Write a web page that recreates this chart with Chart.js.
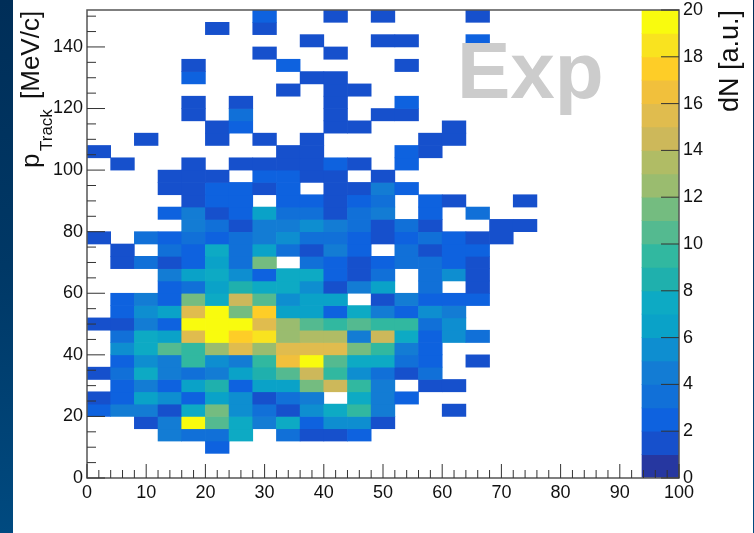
<!DOCTYPE html>
<html><head><meta charset="utf-8">
<style>
html,body{margin:0;padding:0;width:754px;height:533px;overflow:hidden;background:linear-gradient(180deg,#002e58 0%,#003866 50%,#004a80 100%);}
#wrap{position:absolute;left:13px;top:0;width:740px;height:533px;background:#fff;}
canvas{display:block;}
</style>
<script src="https://cdn.jsdelivr.net/npm/chart.js@4"></script>
</head><body><div id="wrap"><canvas id="c" width="740" height="533"></canvas></div>
<script>
const binSize = 4;
const topBinLow = 148;
// counts per 4x4 bin; rows run from the top row (pTrack 148-152) down, columns from x = 0-4 up
const counts = [
[0,0,0,0,0,0,0,2,0,0,1,0,1,0,0,0,1,0,0],
[0,0,0,0,0,1,0,1,0,0,0,0,0,0,0,0,0,0,0],
[0,0,0,0,0,0,0,0,0,1,0,0,1,1,0,0,2,0,0],
[0,0,0,0,0,0,0,1,0,0,1,0,0,0,0,0,0,0,0],
[0,0,0,0,1,0,0,0,2,0,0,0,0,1,0,0,0,0,0],
[0,0,0,0,2,0,0,0,0,1,1,0,0,0,0,0,0,0,0],
[0,0,0,0,0,0,0,0,1,0,1,1,0,0,0,0,0,0,0],
[0,0,0,0,1,0,1,0,0,0,1,0,0,2,0,0,0,0,0],
[0,0,0,0,1,0,3,0,0,0,1,0,1,1,0,0,0,0,0],
[0,0,0,0,0,1,2,0,0,0,1,1,0,0,0,1,0,0,0],
[0,0,1,0,0,1,0,1,0,1,0,0,0,0,1,1,0,0,0],
[1,0,0,0,0,0,0,0,1,1,0,0,0,2,1,0,0,0,0],
[0,1,0,0,1,0,1,1,1,1,2,1,0,2,0,0,0,0,0],
[0,0,0,1,1,1,0,2,2,1,1,0,1,0,0,0,0,0,0],
[0,0,0,1,1,2,2,1,2,0,1,1,4,2,0,0,0,0,0],
[0,0,0,0,1,2,2,0,2,2,1,2,3,0,2,1,0,0,1],
[0,0,0,2,4,1,2,6,3,3,1,3,4,0,2,0,3,0,0],
[0,0,0,0,4,3,1,4,4,5,4,3,1,3,1,0,0,1,1],
[1,0,3,2,3,2,3,4,5,3,3,2,1,2,3,2,1,1,0],
[0,1,0,3,2,7,3,6,3,1,4,2,0,3,1,2,2,0,0],
[0,1,3,1,2,6,3,11,0,3,2,1,2,3,3,2,1,0,0],
[0,0,0,4,6,7,5,2,7,7,2,1,3,0,3,5,1,0,0],
[0,0,0,2,3,6,8,7,7,5,1,4,6,0,3,0,1,0,0],
[0,2,4,2,11,7,14,10,5,6,6,0,1,4,2,2,2,0,0],
[0,2,5,6,15,19,11,17,6,6,2,7,4,2,5,4,0,0,0],
[1,1,4,2,19,19,19,15,12,10,9,10,9,9,3,5,0,0,0],
[0,3,7,6,15,19,17,18,12,13,13,4,14,7,2,5,3,0,0],
[0,5,7,10,9,12,15,12,15,15,15,11,9,4,2,0,0,0,0],
[0,2,5,4,9,5,4,9,16,19,10,7,7,3,2,0,1,0,0],
[1,3,7,4,3,4,6,8,10,14,9,5,3,1,3,0,0,0,0],
[0,2,4,2,6,8,2,6,6,11,14,9,4,0,1,1,0,0,0],
[1,2,6,5,2,6,5,1,3,4,0,7,4,2,0,0,0,0,0],
[2,4,4,1,7,11,5,3,1,5,7,9,4,0,0,1,0,0,0],
[0,0,1,4,19,10,7,4,7,2,5,5,1,0,0,0,0,0,0],
[0,0,0,4,3,3,7,0,3,1,1,2,0,0,0,0,0,0,0],
[0,0,0,0,0,2,0,0,0,0,0,0,0,0,0,0,0,0,0]
];
const zLevels = [0,1,2,3,4,5,6,7,8,9,10,11,12,13,14,15,16,17,18,19];
const zColors = ['#2637a0','#1650cc','#0e62df','#1170d8','#137cd4','#0e8ed0','#0aa2c8','#0daac4','#1fb0ad','#31b8a0',
                 '#54ba90','#74bc80','#9abc6f','#b0bc65','#cdb85a','#e0bc4e','#f1c03c','#fecd27','#f9e31f','#f9fb0e'];
const xTickValues = [0,10,20,30,40,50,60,70,80,90,100];
const yTickValues = [0,20,40,60,80,100,120,140];
const zTickValues = [0,2,4,6,8,10,12,14,16,18,20];

const FONT = '"Liberation Sans", Arial, sans-serif';
const inkTick = '#333';
const noOverhang = s => { s.paddingTop = 0; s.paddingBottom = 0; s.paddingLeft = 0; s.paddingRight = 0; };

const cellDatasets = counts.map((row, t) => ({
  type: 'bar',
  label: 'row' + t,
  xAxisID: 'x', yAxisID: 'y',
  grouped: false,
  barThickness: 23.68,
  data: row.map((v, i) => v > 0 ? {x: i * binSize + binSize / 2, y: [topBinLow - t * binSize, topBinLow - t * binSize + binSize], v} : null).filter(Boolean),
  backgroundColor: c => c.raw ? zColors[c.raw.v] : 'transparent'
}));
const paletteDataset = {
  type: 'bar', label: 'palette', xAxisID: 'x', yAxisID: 'z', grouped: false, barThickness: 37,
  data: zLevels.map(l => ({x: 96.875, y: [l, l + 1], v: l})),
  backgroundColor: c => c.raw ? zColors[c.raw.v] : 'transparent'
};

const decorations = {
  id: 'decorations',
  afterDatasetsDraw(chart) {
    const {ctx, chartArea: a, scales} = chart;
    ctx.save();
    // watermark
    ctx.fillStyle = 'rgba(204,204,204,1)';
    ctx.font = 'bold 80px ' + FONT;
    ctx.textAlign = 'left'; ctx.textBaseline = 'alphabetic';
    ctx.fillText('Exp', 444, 98);
    // frame
    ctx.strokeStyle = '#555'; ctx.lineWidth = 1.5;
    ctx.strokeRect(a.left, a.top, a.right - a.left, a.bottom - a.top);
    // inward ticks
    ctx.strokeStyle = inkTick; ctx.lineWidth = 1;
    ctx.beginPath();
    scales.x.ticks.forEach(t => {
      const px = scales.x.getPixelForValue(t.value);
      const len = t.value % 10 === 0 ? 14 : 8;
      ctx.moveTo(px, a.bottom); ctx.lineTo(px, a.bottom - len);
    });
    scales.y.ticks.forEach(t => {
      const py = scales.y.getPixelForValue(t.value);
      const len = t.value % 20 === 0 ? 18 : 9;
      ctx.moveTo(a.left, py); ctx.lineTo(a.left + len, py);
    });
    scales.z.ticks.forEach(t => {
      const py = scales.z.getPixelForValue(t.value);
      ctx.moveTo(a.right, py); ctx.lineTo(a.right - 18, py);
    });
    ctx.stroke();
    // axis titles
    ctx.fillStyle = '#111';
    ctx.textBaseline = 'alphabetic';
    ctx.save();
    ctx.translate(26, 99); ctx.rotate(-Math.PI / 2);
    ctx.textAlign = 'left';
    ctx.font = '26px ' + FONT;
    ctx.fillText('[MeV/c]', 0, 0);
    ctx.restore();
    ctx.save();
    ctx.translate(26, 168); ctx.rotate(-Math.PI / 2);
    ctx.textAlign = 'left';
    ctx.font = '26px ' + FONT;
    ctx.fillText('p', 0, 0);
    ctx.font = '17px ' + FONT;
    ctx.fillText('Track', 17, 13);
    ctx.restore();
    ctx.save();
    ctx.translate(725, 10); ctx.rotate(-Math.PI / 2);
    ctx.textAlign = 'right';
    ctx.font = '27px ' + FONT;
    ctx.fillText('dN [a.u.]', 0, 0);
    ctx.restore();
    ctx.restore();
  }
};

new Chart(document.getElementById('c'), {
  data: {datasets: [...cellDatasets, paletteDataset]},
  options: {
    responsive: false,
    animation: false,
    layout: {padding: {top: 10, left: 0, right: 0, bottom: 0}},
    plugins: {legend: {display: false}, title: {display: false}, tooltip: {enabled: false}},
    scales: {
      x: {
        type: 'linear', position: 'bottom', min: 0, max: 100, offset: false,
        afterFit: s => { s.height = 55; noOverhang(s); },
        grid: {drawOnChartArea: false, drawTicks: false},
        border: {display: false},
        ticks: {
          stepSize: 2, autoSkip: false, maxRotation: 0, includeBounds: false, padding: 4,
          color: '#111', font: {family: FONT, size: 18},
          callback: v => xTickValues.includes(v) ? String(v) : ''
        }
      },
      y: {
        type: 'linear', position: 'left', min: 0, max: 152,
        afterFit: s => { s.width = 74; noOverhang(s); },
        grid: {drawOnChartArea: false, drawTicks: false},
        border: {display: false},
        ticks: {
          stepSize: 5, autoSkip: false, includeBounds: false, padding: 4,
          color: '#111', font: {family: FONT, size: 18},
          callback: v => yTickValues.includes(v) ? String(v) : ''
        }
      },
      z: {
        type: 'linear', position: 'right', min: 0, max: 20,
        afterFit: s => { s.width = 74; noOverhang(s); },
        grid: {drawOnChartArea: false, drawTicks: false},
        border: {display: false},
        ticks: {
          stepSize: 2, autoSkip: false, includeBounds: false, padding: 4,
          color: '#111', font: {family: FONT, size: 18},
          callback: v => zTickValues.includes(v) ? String(v) : ''
        }
      }
    }
  },
  plugins: [decorations]
});
</script></body></html>
